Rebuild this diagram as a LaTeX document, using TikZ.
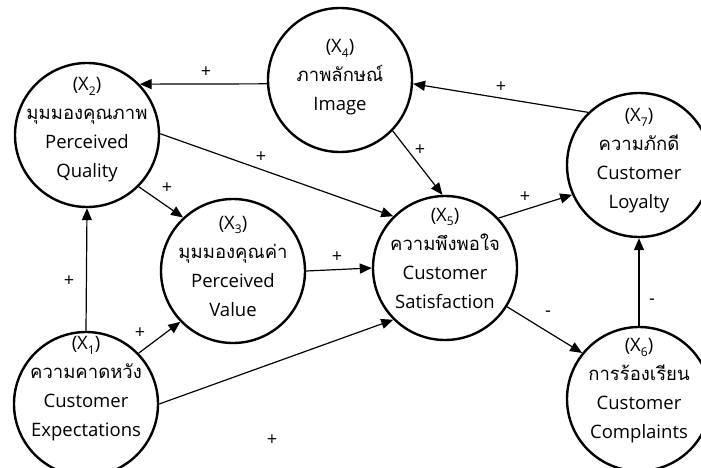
\documentclass[tikz,border=0pt]{standalone}
\usepackage{fontspec}
\setmainfont{Open Sans}
\newfontfamily\thai[Script=Thai]{Loma}
\usetikzlibrary{arrows.meta}
\newcommand\xsub[1]{\raisebox{-0.5ex}{\fontsize{12}{12}\selectfont #1}}
\tikzset{
  var/.style={circle, draw, line width=2.4pt, minimum size=144pt, inner sep=0pt},
  vtext/.style={align=center, inner sep=0pt, font=\fontsize{18.5}{29}\selectfont},
  arr/.style={line width=1.2pt, -{Triangle[length=12pt,width=10pt]}},
  sgn/.style={font=\fontsize{18}{18}\selectfont, inner sep=0pt}
}
\begin{document}
\begin{tikzpicture}[x=1pt,y=-1pt]
\useasboundingbox (0,0) rectangle (701,468);
\node[var] (x2) at (87,135) {};
\node[var] (x4) at (340,80) {};
\node[var] (x7) at (639,165) {};
\node[var] (x3) at (233,271) {};
\node[var] (x5) at (445,268) {};
\node[var] (x1) at (86,404) {};
\node[var] (x6) at (639,399) {};

\node[vtext] (t2) at (87,130) {(X\xsub{2})\\{\thai มุมมองคุณภาพ}\\Perceived\\Quality};
\node[vtext] (t4) at (340,77) {(X\xsub{4})\\{\thai ภาพลักษณ์}\\Image};
\node[vtext] (t7) at (639,161) {(X\xsub{7})\\{\thai ความภักดี}\\Customer\\Loyalty};
\node[vtext] (t3) at (233,266) {(X\xsub{3})\\{\thai มุมมองคุณค่า}\\Perceived\\Value};
\node[vtext] (t5) at (445,258) {(X\xsub{5})\\{\thai ความพึงพอใจ}\\Customer\\Satisfaction};
\node[vtext] (t1) at (86,389) {(X\xsub{1})\\{\thai ความคาดหวัง}\\Customer\\Expectations};
\node[vtext] (t6) at (639,391) {(X\xsub{6})\\{\thai การร้องเรียน}\\Customer\\Complaints};

\draw[arr] (x4.183) -- (x2.44);
\draw[arr] (x7.134) -- (x4.-3);
\draw[arr] (x2.1) -- (x5.135);
\draw[arr] (x2.-45) -- (x3.133);
\draw[arr] (x4.-44) -- (x5.92);
\draw[arr] (x3.east) -- (x5.west);
\draw[arr] (x1.north) -- (x2.south);
\draw[arr] (x1.44) -- (x3.224);
\draw[arr] (x1.0) -- (x5.225);
\draw[arr] (x5.43) -- (x7.204);
\draw[arr] (x5.-32) -- (x6.141);
\draw[arr] (x6.north) -- (x7.south);

\node[sgn] (s1) at (206,72) {+};
\node[sgn] (s2) at (261,157) {+};
\node[sgn] (s3) at (167,188) {+};
\node[sgn] (s4) at (420,150) {+};
\node[sgn] (s5) at (501,87) {+};
\node[sgn] (s6) at (525,197) {+};
\node[sgn] (s7) at (69,281) {+};
\node[sgn] (s8) at (140,333) {+};
\node[sgn] (s9) at (337,257) {+};
\node[sgn] (s10) at (272,440) {+};
\node[sgn] (s11) at (548,314) {-};
\node[sgn] (s12) at (652,302) {-};
\end{tikzpicture}
\end{document}
